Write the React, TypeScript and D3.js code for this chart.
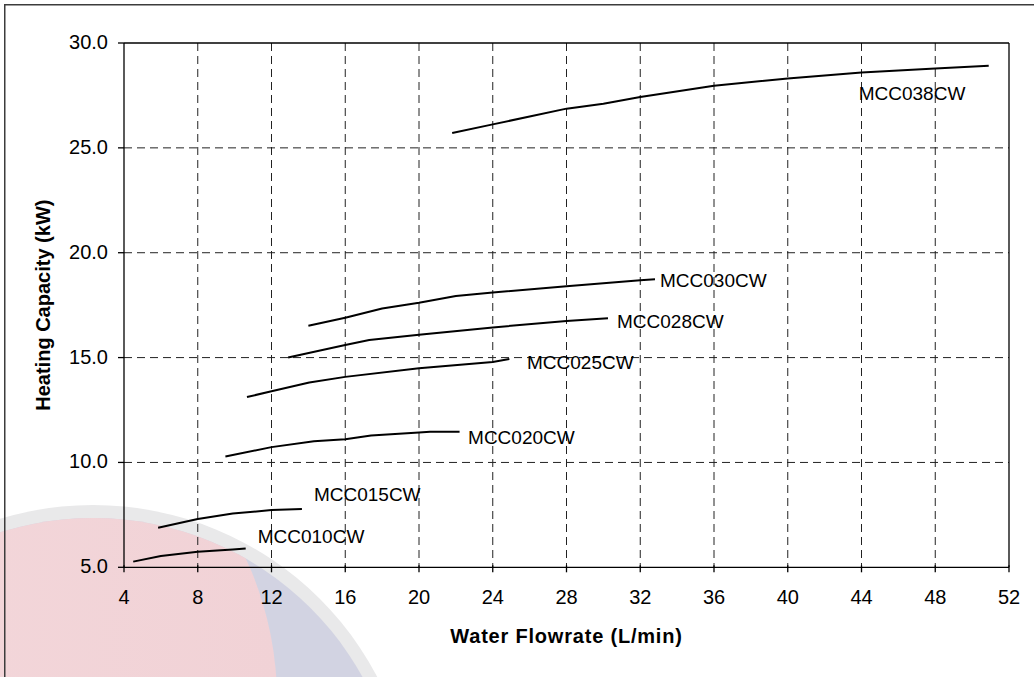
import React from 'react';
import * as d3 from 'd3';

// ---- Data ----
const xTicks = [4, 8, 12, 16, 20, 24, 28, 32, 36, 40, 44, 48, 52];
const yTicks = [5, 10, 15, 20, 25, 30];
const xTitle = 'Water Flowrate (L/min)';
const yTitle = 'Heating Capacity (kW)';

const seriesNames = ['MCC010CW', 'MCC015CW', 'MCC020CW', 'MCC025CW', 'MCC028CW', 'MCC030CW', 'MCC038CW'];

const mcc010Flow = [4.5, 6.0, 8.0, 9.9, 10.6];
const mcc010Cap = [5.27, 5.54, 5.74, 5.85, 5.9];

const mcc015Flow = [5.85, 8.0, 9.9, 12.0, 13.65];
const mcc015Cap = [6.89, 7.3, 7.56, 7.73, 7.78];

const mcc020Flow = [9.5, 12.0, 14.3, 16.0, 17.4, 20.0, 20.6, 22.2];
const mcc020Cap = [10.28, 10.73, 11.01, 11.11, 11.28, 11.43, 11.46, 11.46];

const mcc025Flow = [10.67, 12.0, 14.05, 16.0, 20.0, 24.0, 24.9];
const mcc025Cap = [13.12, 13.39, 13.81, 14.08, 14.49, 14.79, 14.93];

const mcc028Flow = [12.9, 16.0, 17.3, 20.0, 24.0, 28.0, 30.25];
const mcc028Cap = [15.0, 15.6, 15.84, 16.09, 16.44, 16.74, 16.87];

const mcc030Flow = [14.0, 16.0, 18.0, 20.0, 22.0, 24.0, 28.0, 32.0, 32.8];
const mcc030Cap = [16.52, 16.9, 17.34, 17.61, 17.94, 18.1, 18.4, 18.69, 18.73];

const mcc038Flow = [21.8, 24, 28, 30, 32, 36, 40, 44, 48, 50.9];
const mcc038Cap = [25.71, 26.12, 26.87, 27.1, 27.42, 27.96, 28.31, 28.59, 28.78, 28.92];

const seriesFlows = [mcc010Flow, mcc015Flow, mcc020Flow, mcc025Flow, mcc028Flow, mcc030Flow, mcc038Flow];
const seriesCaps = [mcc010Cap, mcc015Cap, mcc020Cap, mcc025Cap, mcc028Cap, mcc030Cap, mcc038Cap];

// label placement relative to last point (px)
const labelOffsets: [number, number][] = [
  [12, -5.5], [12, -8], [8.5, 11.7], [17.7, 10], [9, 9.2], [5, 8], [-130, 34.5],
];

const W = 1034;
const H = 677;
const margin = { left: 124, right: 1009, top: 43, bottom: 567.3 };

export default function App() {
  const x = d3.scaleLinear().domain([4, 52]).range([margin.left, margin.right]);
  const y = d3.scaleLinear().domain([5, 30]).range([margin.bottom, margin.top]);
  const line = d3
    .line<[number, number]>()
    .x((d) => x(d[0]))
    .y((d) => y(d[1]))
    .curve(d3.curveLinear);
  const fmt = d3.format('.1f');
  const font = '"Liberation Sans", Arial, sans-serif';

  return (
    <svg
      width={W}
      height={H}
      style={{ position: 'absolute', left: 0, top: 0, display: 'block' }}
      fontFamily={font}
    >
      <defs>
        <clipPath id="innerCircle">
          <circle cx={93} cy={826} r={308} />
        </clipPath>
        <linearGradient id="pinkGrad" x1="0" y1="0" x2="1" y2="0">
          <stop offset="0" stopColor="#f4dadd" />
          <stop offset="1" stopColor="#f1d2d6" />
        </linearGradient>
      </defs>
      <rect x={0} y={0} width={W} height={H} fill="#ffffff" />
      {/* watermark */}
      <g>
        <circle cx={93} cy={826} r={321} fill="#e9e9ea" />
        <circle cx={93} cy={826} r={308} fill="#d2d3e2" />
        <circle cx={-60} cy={700} r={337} fill="url(#pinkGrad)" clipPath="url(#innerCircle)" />
      </g>

      {/* gridlines */}
      <g stroke="#222" strokeWidth={1} strokeDasharray="8,5" fill="none">
        {xTicks
          .filter((t) => t !== 4 && t !== 52)
          .map((t) => (
            <line key={'gx' + t} x1={x(t)} x2={x(t)} y1={y(30)} y2={y(5)} />
          ))}
        {yTicks
          .filter((t) => t !== 5 && t !== 30)
          .map((t) => (
            <line key={'gy' + t} x1={x(4)} x2={x(52)} y1={y(t)} y2={y(t)} />
          ))}
      </g>

      {/* plot box */}
      <g stroke="#000" strokeWidth={1.3} fill="none">
        <line x1={x(4)} x2={x(52)} y1={y(30)} y2={y(30)} />
        <line x1={x(52)} x2={x(52)} y1={y(30)} y2={y(5)} />
        <line x1={x(4)} x2={x(4)} y1={y(30)} y2={y(5)} />
        <line x1={x(4)} x2={x(52)} y1={y(5)} y2={y(5)} />
        {yTicks.map((t) => (
          <line key={'ty' + t} x1={x(4) - 6} x2={x(4)} y1={y(t)} y2={y(t)} />
        ))}
        {xTicks.map((t) => (
          <line key={'tx' + t} x1={x(t)} x2={x(t)} y1={y(5) - 2} y2={y(5) + 5} />
        ))}
      </g>

      {/* tick labels */}
      <g fontSize={20} fill="#000">
        {yTicks.map((t) => (
          <text key={'ly' + t} x={108} y={y(t) + 6} textAnchor="end">
            {fmt(t)}
          </text>
        ))}
        {xTicks.map((t) => (
          <text key={'lx' + t} x={x(t)} y={604} textAnchor="middle">
            {t}
          </text>
        ))}
      </g>

      {/* axis titles */}
      <text
        x={(margin.left + margin.right) / 2}
        y={643}
        textAnchor="middle"
        fontWeight="bold"
        fontSize={20}
        letterSpacing={0.8}
      >
        {xTitle}
      </text>
      <text
        transform={`translate(49.5, ${(margin.top + margin.bottom) / 2}) rotate(-90)`}
        textAnchor="middle"
        fontWeight="bold"
        fontSize={20}
      >
        {yTitle}
      </text>

      {/* series */}
      {seriesNames.map((name, i) => {
        const pts = seriesFlows[i].map((f, j) => [f, seriesCaps[i][j]] as [number, number]);
        const last = pts[pts.length - 1];
        const [dx, dy] = labelOffsets[i];
        return (
          <g key={name}>
            <path d={line(pts) || ''} fill="none" stroke="#000" strokeWidth={2} strokeLinejoin="round" />
            <text x={x(last[0]) + dx} y={y(last[1]) + dy} fontSize={19} fill="#000">
              {name}
            </text>
          </g>
        );
      })}

      {/* outer frame */}
      <rect x={4.75} y={4.75} width={1100} height={800} fill="none" stroke="#3c3c3c" strokeWidth={1.5} />
    </svg>
  );
}
